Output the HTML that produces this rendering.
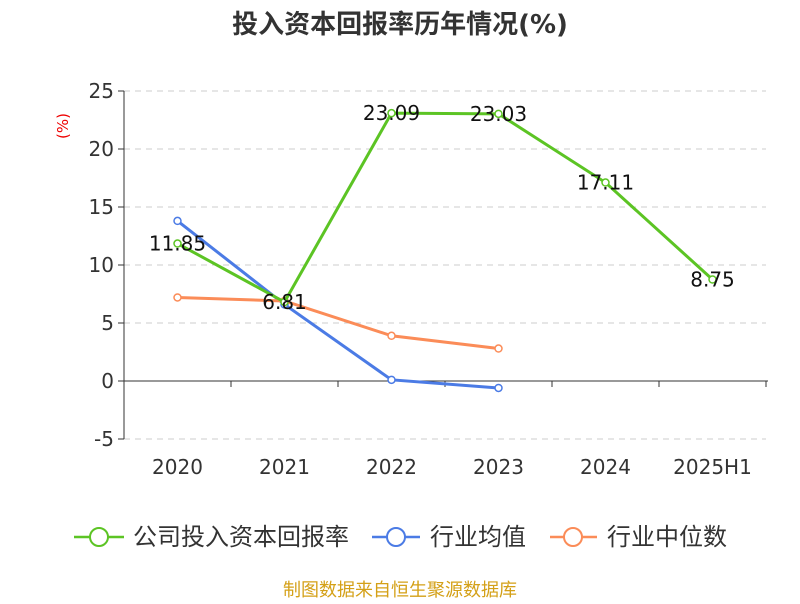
<!DOCTYPE html>
<html><head><meta charset="utf-8"><style>
body{margin:0;background:#fff;font-family:"DejaVu Sans","Noto Sans CJK SC",sans-serif;}
</style></head><body>
<svg width="800" height="600" id="c" xmlns="http://www.w3.org/2000/svg" style="font-family:'DejaVu Sans','Noto Sans CJK SC',sans-serif">
<text x="400" y="33" text-anchor="middle" font-size="26" font-weight="bold" fill="#333">投入资本回报率历年情况(%)</text>
<text x="68" y="126" transform="rotate(-90 68 126)" text-anchor="middle" font-size="15" fill="#e00">(%)</text>
<g id="grid"></g><g id="axes"></g><g id="series"></g>
<g font-size="24" fill="#333">
<g><line x1="74" y1="537" x2="124" y2="537" stroke="#5cc424" stroke-width="2.5"/><circle cx="99" cy="537" r="9" fill="#fff" stroke="#5cc424" stroke-width="2"/><text x="133" y="545">公司投入资本回报率</text></g>
<g><line x1="372" y1="537" x2="420" y2="537" stroke="#4b7be5" stroke-width="2.5"/><circle cx="396" cy="537" r="9" fill="#fff" stroke="#4b7be5" stroke-width="2"/><text x="430" y="545">行业均值</text></g>
<g><line x1="550" y1="537" x2="597" y2="537" stroke="#fb8c58" stroke-width="2.5"/><circle cx="573" cy="537" r="9" fill="#fff" stroke="#fb8c58" stroke-width="2"/><text x="607" y="545">行业中位数</text></g>
</g>
<text x="400" y="596" text-anchor="middle" font-size="18" fill="#d4a017">制图数据来自恒生聚源数据库</text>
</svg>
<script>
const categories=["2020","2021","2022","2023","2024","2025H1"];
const companyVals=[11.85,6.81,23.09,23.03,17.11,8.75];
const avgVals=[13.8,6.6,0.1,-0.6];
const medianVals=[7.2,6.9,3.9,2.8];
const yTicks=[-5,0,5,10,15,20,25];
const NS="http://www.w3.org/2000/svg";
const L=124,R=766,bw=(R-L)/categories.length;
const x=i=>L+bw*(i+0.5);
const y=v=>381-v*11.6;
function mk(t,a,p){const e=document.createElementNS(NS,t);for(const k in a)e.setAttribute(k,a[k]);p.appendChild(e);return e;}
const grid=document.getElementById('grid'),axes=document.getElementById('axes'),ser=document.getElementById('series');
yTicks.forEach(v=>{
 if(v!==0){const g=mk('line',{x1:L,x2:R,y1:y(v),y2:y(v),stroke:'#ccc','stroke-dasharray':'6,5'},grid);
 }
 const tk=mk('line',{x1:L-6,x2:L,y1:y(v),y2:y(v),stroke:'#333'},axes);
 
 const t=mk('text',{x:L-10,y:y(v)+7,'text-anchor':'end','font-size':20,fill:'#333'},axes);t.textContent=v;
 
});
const ya=mk('line',{x1:L,x2:L,y1:y(25),y2:y(-5),stroke:'#333'},axes);

const xa=mk('line',{x1:L,x2:R+2,y1:y(0),y2:y(0),stroke:'#333'},axes);

categories.forEach((c,i)=>{
 const tk=mk('line',{x1:L+bw*(i+1),x2:L+bw*(i+1),y1:y(0),y2:y(0)+6,stroke:'#333'},axes);
 
 const t=mk('text',{x:x(i),y:474,'text-anchor':'middle','font-size':20,fill:'#333'},axes);t.textContent=c;
 
});
function series(vals,color,name,labels){
 const p=mk('polyline',{points:vals.map((v,i)=>x(i)+','+y(v)).join(' '),fill:'none',stroke:color,'stroke-width':3},ser);
 
 vals.forEach((v,i)=>{
  const c=mk('circle',{cx:x(i),cy:y(v),r:3.5,fill:'#fff',stroke:color,'stroke-width':1.5},ser);
  
  if(labels){const t=mk('text',{x:x(i),y:y(v)+7,'text-anchor':'middle','font-size':20,fill:'#111'},ser);t.textContent=v.toFixed(2);
  }
 });
}
series(avgVals,'#4b7be5','industry-avg',false);
series(medianVals,'#fb8c58','industry-median',false);
series(companyVals,'#5cc424','company',true);
</script>
</body></html>
